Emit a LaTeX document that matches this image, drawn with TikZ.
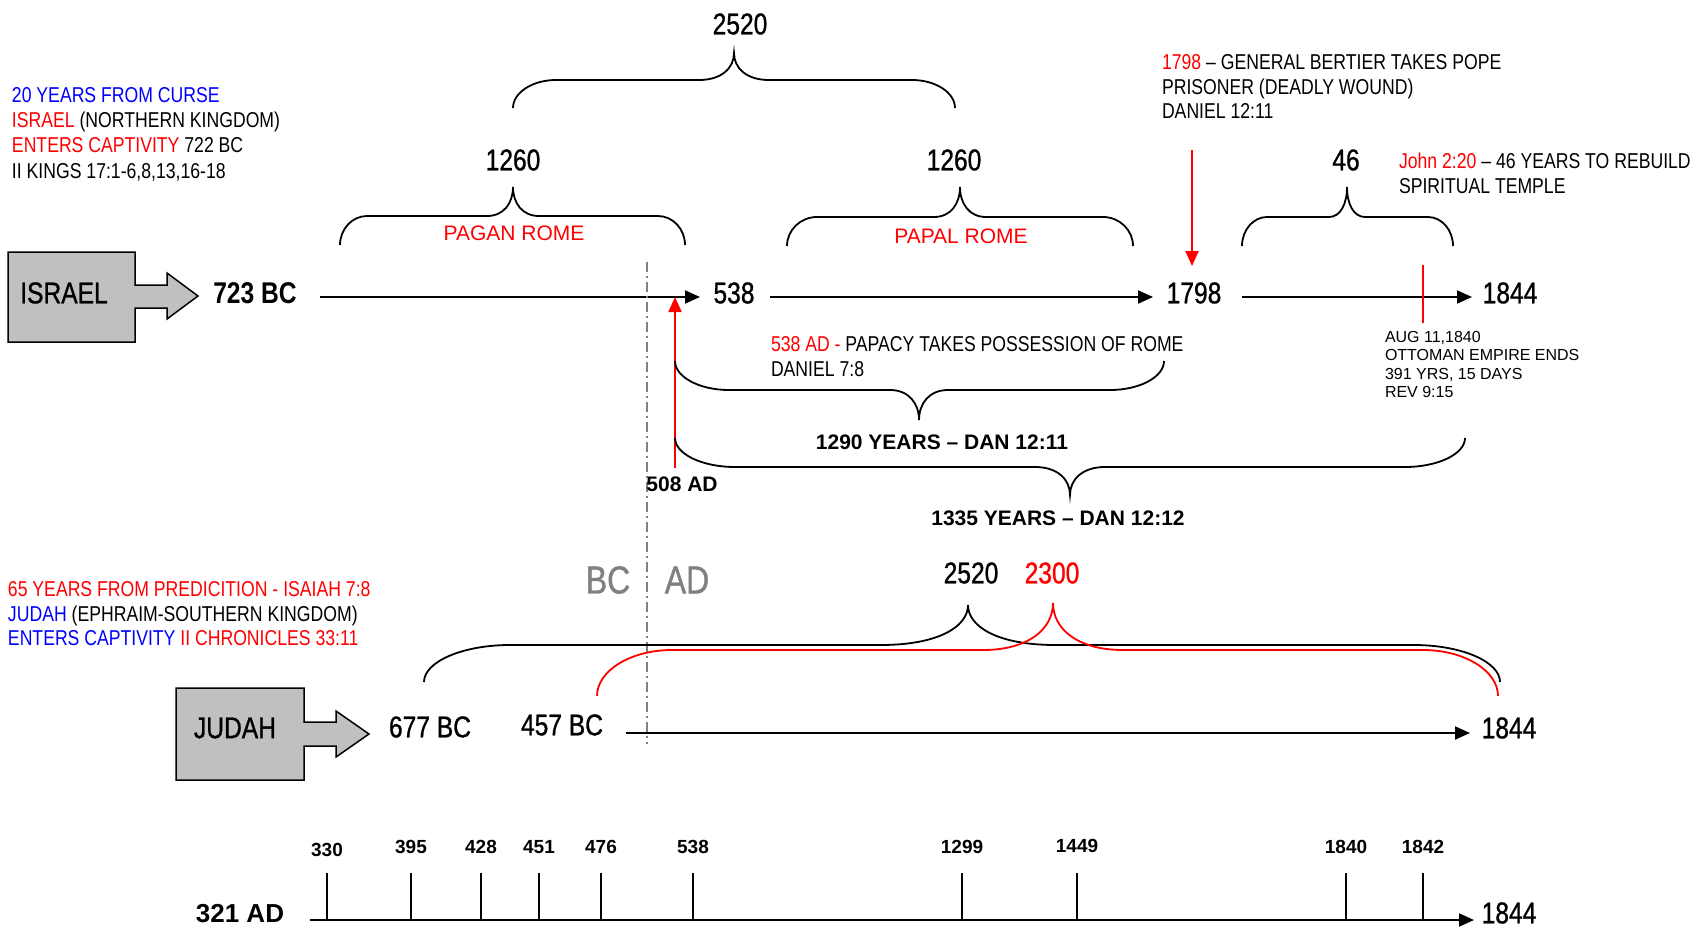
\documentclass[tikz,border=0pt]{standalone}
\usepackage{fontspec}
\setmainfont{Liberation Sans}
\newfontfamily\nar[FakeStretch=0.82]{Liberation Sans}
\newfontfamily\narm[FakeStretch=0.82,FakeBold=0.9]{Liberation Sans}
\usetikzlibrary{arrows.meta}
\definecolor{myred}{RGB}{255,0,0}
\definecolor{myblue}{RGB}{0,0,255}
\definecolor{mygray}{RGB}{128,128,128}
\definecolor{boxgray}{RGB}{192,192,192}
\newcommand\fs[1]{\fontsize{#1pt}{#1pt}\selectfont}
% optional style, x1, x2, yend, yhor, xtip, ytip, r, s
\newcommand\mybrace[9][]{%
  \draw[brc,#1] (#2,#4) .. controls (#2,{#4+0.55*(#5-#4)}) and ({#2+0.45*#8},#5) .. ({#2+#8},#5)
   -- ({#6-#9},#5) .. controls ({#6-0.35*#9},#5) and (#6,{#5+0.45*(#7-#5)}) .. (#6,#7)
   .. controls (#6,{#5+0.45*(#7-#5)}) and ({#6+0.35*#9},#5) .. ({#6+#9},#5)
   -- ({#3-#8},#5) .. controls ({#3-0.45*#8},#5) and (#3,{#4+0.55*(#5-#4)}) .. (#3,#4);}
\begin{document}
\begin{tikzpicture}[x=1pt,y=-1pt,
  every node/.style={inner sep=0pt,outer sep=0pt},
  big/.style={font=\narm\fs{30}},
  txt/.style={font=\nar\fs{21.5},anchor=base west},
  sm/.style={font=\fs{16},anchor=base west},
  bld/.style={font=\bfseries\fs{21}},
  tkl/.style={font=\bfseries\fs{19}},
  tl/.style={line width=2pt,-{Triangle[length=15pt,width=13pt]}},
  rtl/.style={line width=2pt,myred,-{Triangle[length=15pt,width=13pt]}},
  brc/.style={line width=1.8pt},
  callout/.style={draw,line width=1.5pt,fill=boxgray,line join=miter},
  tick/.style={line width=1.2pt}]
\useasboundingbox (0,0) rectangle (1702,931);

% ---------- ISRAEL callout ----------
\draw[callout] (8,252) -- (135,252) -- (135,285) -- (167,285) -- (167,273) -- (198,296)
  -- (167,319) -- (167,308) -- (135,308) -- (135,342) -- (8,342) -- cycle;
\node[big] (israel) at (64,293) {ISRAEL};
\node[big,font=\nar\bfseries\fs{30}] (t723) at (255,293) {723 BC};
\node[big] (t538) at (734,293) {538};
\node[big] (t1798) at (1194,293) {1798};
\node[big] (t1844a) at (1510,293) {1844};

\coordinate (s1) at (320,297); \coordinate (e1) at (700,297);
\coordinate (s2) at (770,297); \coordinate (e2) at (1153,297);
\coordinate (s3) at (1242,297); \coordinate (e3) at (1472,297);
\draw[tl] (s1) -- (e1);
\draw[tl] (s2) -- (e2);
\draw[tl] (s3) -- (e3);

% dash-dot BC/AD divider
\coordinate (dv1) at (647,262); \coordinate (dv2) at (647,744);
\draw[mygray,line width=1.5pt,dash pattern=on 10pt off 4pt on 2pt off 4pt] (dv1) -- (dv2);
\node[font=\narm\fs{39},text=mygray] (bc) at (608,580) {BC};
\node[font=\narm\fs{39},text=mygray] (ad) at (687,580) {AD};

% red arrows
\node[bld] (t508) at (682,484) {508 AD};
\coordinate (r1) at (675,468); \coordinate (r1t) at (675,297);
\draw[rtl] (r1) -- (r1t);
\coordinate (r2) at (1192,150); \coordinate (r2t) at (1192,266);
\draw[rtl] (r2) -- (r2t);
\coordinate (r3a) at (1423,265); \coordinate (r3b) at (1423,323);
\draw[myred,line width=2pt] (r3a) -- (r3b);

% top braces
\node[big] (n2520a) at (740,24) {2520};
\mybrace{513}{955}{108}{80}{734}{53}{43}{35}
\node[big] (n1260a) at (513,160) {1260};
\mybrace{340}{685}{245}{216}{513}{187}{27}{26}
\node[font=\fs{21},text=myred] (pagan) at (514,233) {PAGAN ROME};
\node[big] (n1260b) at (954,160) {1260};
\mybrace{787}{1133}{246}{217}{960}{187}{30}{26}
\node[font=\fs{21},text=myred] (papal) at (961,236) {PAPAL ROME};
\node[big] (n46) at (1346,160) {46};
\mybrace{1242}{1453}{246}{217}{1347}{187}{25}{18}

% 1290 / 1335 braces
\mybrace{675}{1164}{361}{390}{919}{420}{54}{29}
\node[bld] (t1290) at (942,442) {1290 YEARS – DAN 12:11};
\mybrace{675}{1465}{438}{467}{1070}{495}{60}{35}
\node[bld] (t1335) at (1058,518) {1335 YEARS – DAN 12:12};

% texts upper
\node[txt] (tl1) at (12,103) {\textcolor{myblue}{20 YEARS FROM CURSE}};
\node[txt] (tl2) at (12,128) {\textcolor{myred}{ISRAEL} (NORTHERN KINGDOM)};
\node[txt] (tl3) at (12,153) {\textcolor{myred}{ENTERS CAPTIVITY} 722 BC};
\node[txt] (tl4) at (12,178) {II KINGS 17:1-6,8,13,16-18};

\node[txt] (tr1) at (1162,70) {\textcolor{myred}{1798} – GENERAL BERTIER TAKES POPE};
\node[txt] (tr2) at (1162,95) {PRISONER (DEADLY WOUND)};
\node[txt] (tr3) at (1162,119) {DANIEL 12:11};

\node[txt] (jn1) at (1399,168) {\textcolor{myred}{John 2:20} – 46 YEARS TO REBUILD};
\node[txt] (jn2) at (1399,193) {SPIRITUAL TEMPLE};

\node[txt] (pp1) at (771,351) {\textcolor{myred}{538 AD -} PAPACY TAKES POSSESSION OF ROME};
\node[txt] (pp2) at (771,376) {DANIEL 7:8};

\node[sm] (au1) at (1385,342) {AUG 11,1840};
\node[sm] (au2) at (1385,360) {OTTOMAN EMPIRE ENDS};
\node[sm] (au3) at (1385,379) {391 YRS, 15 DAYS};
\node[sm] (au4) at (1385,397) {REV 9:15};

% lower left text
\node[txt] (bl1) at (8,596) {\textcolor{myred}{65 YEARS FROM PREDICITION - ISAIAH 7:8}};
\node[txt] (bl2) at (8,621) {\textcolor{myblue}{JUDAH} (EPHRAIM-SOUTHERN KINGDOM)};
\node[txt] (bl3) at (8,645) {\textcolor{myblue}{ENTERS CAPTIVITY} \textcolor{myred}{II CHRONICLES 33:11}};

% ---------- JUDAH ----------
\draw[callout] (176,688) -- (304,688) -- (304,722) -- (336,722) -- (336,711) -- (369,734)
  -- (336,757) -- (336,746) -- (304,746) -- (304,780) -- (176,780) -- cycle;
\node[big] (judah) at (235,728) {JUDAH};
\node[big] (t677) at (430,727) {677 BC};
\node[big] (t457) at (562,725) {457 BC};
\node[big] (t1844b) at (1509,728) {1844};
\coordinate (js) at (626,733); \coordinate (je) at (1470,733);
\draw[tl] (js) -- (je);

\node[big] (n2520b) at (971,573) {2520};
\node[big,text=myred] (n2300) at (1052,573) {2300};
\mybrace{424}{1500}{682}{645}{968}{605}{86}{87}
\mybrace[myred]{597}{1498}{696}{650}{1053}{603}{75}{70}

% ---------- bottom timeline ----------
\node[font=\bfseries\fs{26}] (t321) at (240,914) {321 AD};
\node[big] (t1844c) at (1509,913) {1844};
\coordinate (bs) at (310,920); \coordinate (be) at (1474,920);
\draw[tl] (bs) -- (be);
\foreach \x/\l/\y in {327/330/850,411/395/847,481/428/847,539/451/847,601/476/847,
  693/538/847,962/1299/847,1077/1449/846,1346/1840/847,1423/1842/847}{
  \coordinate (tt\l) at (\x,873); \coordinate (tb\l) at (\x,920);
  \draw[tick] (tt\l) -- (tb\l);
  \node[tkl] (lab\l) at (\x,\y) {\l};
}
\end{tikzpicture}
\end{document}
